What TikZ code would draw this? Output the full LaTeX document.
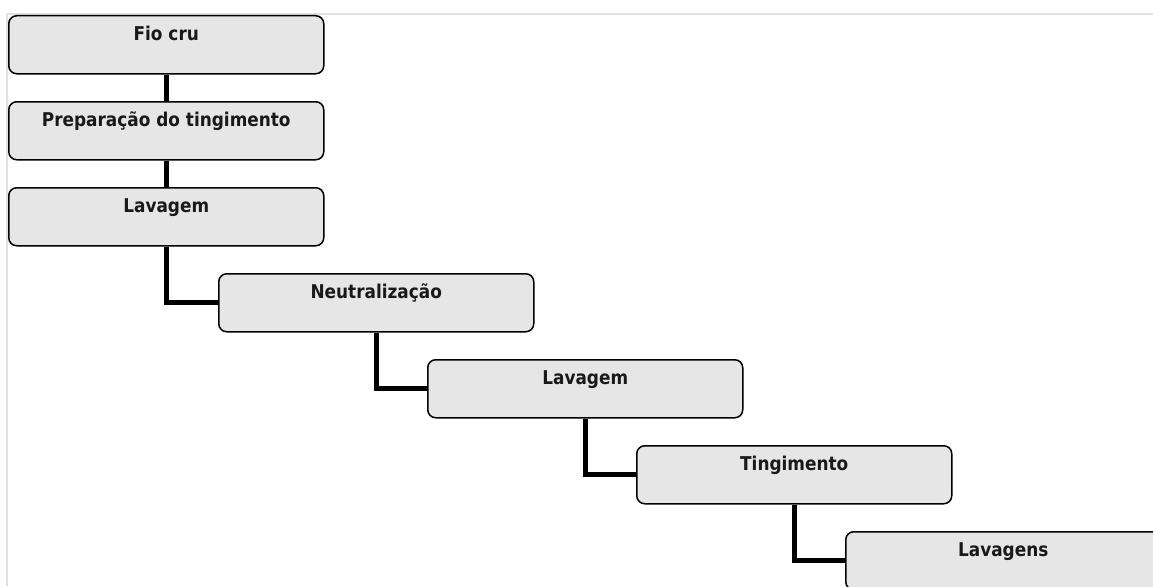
\documentclass[tikz,border=0pt]{standalone}
\usepackage{fontspec}
\setmainfont{DejaVu Sans}[FakeStretch=0.89]
\definecolor{boxgray}{HTML}{E6E6E6}
\definecolor{framegray}{HTML}{E2E2E2}
\tikzset{
  stepbox/.style={draw=black,fill=boxgray,line width=1.5pt,rounded corners=8pt,
    minimum width=315pt,inner xsep=0pt,inner ysep=0pt,
    text height=25pt,text depth=33pt,anchor=north west,
    font=\fontsize{19}{22}\selectfont\bfseries,text=black!90},
  link/.style={line width=5pt,black},
}
\begin{document}
\begin{tikzpicture}[x=1pt,y=-1pt,line join=miter]
\useasboundingbox (0,0) rectangle (1153,586);
%%
  \draw [framegray,line width=2pt] (7,586) -- (7,14) -- (1153,14);
  \node [stepbox] (step_0) at (8,15) {Fio cru};
  \node [stepbox] (step_1) at (8,101) {Preparação do tingimento};
  \node [stepbox] (step_2) at (8,187) {Lavagem};
  \node [stepbox] (step_3) at (218,273) {Neutralização};
  \node [stepbox] (step_4) at (427,359) {Lavagem};
  \node [stepbox] (step_5) at (636,445) {Tingimento};
  \node [stepbox] (step_6) at (845,531) {Lavagens};
  \draw [link] (step_0.south) -- (step_1.north);
  \draw [link] (step_1.south) -- (step_2.north);
  \draw [link] (step_2.south) |- (step_3.west);
  \draw [link] (step_3.south) |- (step_4.west);
  \draw [link] (step_4.south) |- (step_5.west);
  \draw [link] (step_5.south) |- (step_6.west);
\end{tikzpicture}
\end{document}
